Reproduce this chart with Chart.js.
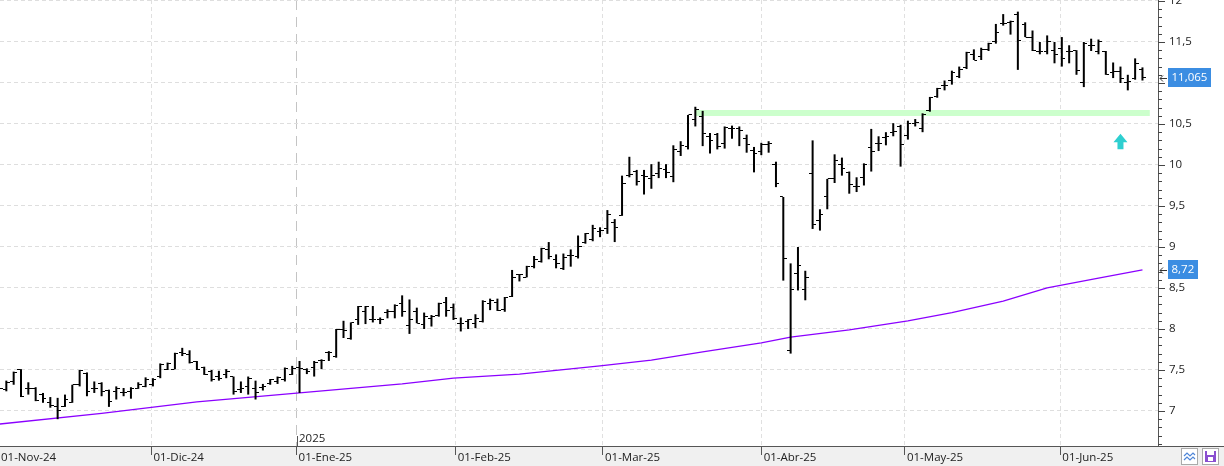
<!DOCTYPE html>
<html>
<head>
<meta charset="utf-8">
<title>Cotización diaria</title>
<script src="https://cdn.jsdelivr.net/npm/chart.js@4.4.1/dist/chart.umd.min.js"></script>
<style>
    html, body { margin: 0; padding: 0; background: #fff; }
    canvas { display: block; }
</style>
</head>
<body>
<canvas id="priceChart" width="1224" height="466"></canvas>
<script>
// Month ticks on the bottom axis (position = bar index where the month starts)
const monthLabels = ['01-Nov-24', '01-Dic-24', '01-Ene-25', '01-Feb-25', '01-Mar-25', '01-Abr-25', '01-May-25', '01-Jun-25'];
const monthPos = [0, 20.8, 40.6, 62.3, 82.4, 104.05, 123.6, 144.8];
const yearMarkIndex = 2;
const yearLabel = '2025';

// Daily OHLC, one entry per session (01-Nov-24 .. 17-Jun-25)
const opens = [7.30, 7.26, 7.36, 7.50, 7.28, 7.28, 7.20, 7.10, 7.05, 7.06,
    7.10, 7.32, 7.46, 7.28, 7.34, 7.25, 7.24, 7.23, 7.24, 7.28,
    7.30, 7.32, 7.42, 7.51, 7.51, 7.71, 7.69, 7.60, 7.53, 7.48,
    7.42, 7.44, 7.42, 7.26, 7.30, 7.28, 7.29, 7.34, 7.36, 7.38,
    7.45, 7.53, 7.50, 7.53, 7.61, 7.71, 7.66, 7.99, 7.89, 8.11,
    8.21, 8.12, 8.12, 8.20, 8.21, 8.31, 8.04, 8.21, 8.05, 8.13,
    8.16, 8.32, 8.26, 8.07, 8.09, 8.07, 8.09, 8.31, 8.32, 8.24,
    8.40, 8.66, 8.63, 8.76, 8.82, 8.97, 8.85, 8.74, 8.90, 8.89,
    9.05, 9.09, 9.19, 9.22, 9.30, 9.39, 9.87, 9.92, 9.87, 9.83,
    9.90, 9.94, 9.86, 10.17, 10.22, 10.55, 10.59, 10.35, 10.37, 10.26,
    10.45, 10.45, 10.32, 10.18, 10.16, 10.25, 10.00, 9.61, 7.74, 8.68,
    8.48, 9.90, 9.32, 9.62, 9.84, 10.00, 9.91, 9.74, 9.85, 10.21,
    10.26, 10.34, 10.40, 10.47, 10.36, 10.50, 10.45, 10.67, 10.83, 10.97,
    11.03, 11.08, 11.19, 11.35, 11.32, 11.41, 11.50, 11.72, 11.74, 11.83,
    11.71, 11.56, 11.39, 11.39, 11.40, 11.42, 11.39, 11.40, 11.00, 11.46,
    11.39, 11.38, 11.13, 11.14, 11.01, 11.05, 11.17];
const highs = [7.33, 7.37, 7.48, 7.51, 7.35, 7.29, 7.22, 7.17, 7.16, 7.20,
    7.32, 7.50, 7.47, 7.36, 7.35, 7.26, 7.30, 7.28, 7.29, 7.35,
    7.41, 7.40, 7.58, 7.59, 7.71, 7.77, 7.74, 7.61, 7.54, 7.50,
    7.49, 7.51, 7.42, 7.36, 7.42, 7.37, 7.33, 7.39, 7.42, 7.53,
    7.55, 7.61, 7.52, 7.61, 7.63, 7.73, 8.00, 8.10, 8.08, 8.28,
    8.28, 8.28, 8.14, 8.24, 8.30, 8.41, 8.36, 8.26, 8.20, 8.17,
    8.32, 8.39, 8.31, 8.14, 8.12, 8.18, 8.35, 8.37, 8.37, 8.39,
    8.72, 8.67, 8.77, 8.89, 8.99, 9.06, 8.91, 8.92, 8.97, 9.14,
    9.17, 9.27, 9.24, 9.45, 9.34, 9.87, 10.10, 9.94, 9.94, 10.01,
    10.04, 10.01, 10.24, 10.29, 10.61, 10.71, 10.66, 10.39, 10.39, 10.47,
    10.48, 10.47, 10.37, 10.22, 10.27, 10.29, 10.04, 9.61, 8.80, 9.00,
    8.71, 10.30, 9.46, 9.83, 10.13, 10.09, 9.92, 9.85, 10.02, 10.44,
    10.35, 10.40, 10.51, 10.49, 10.54, 10.56, 10.63, 10.83, 10.94, 11.03,
    11.15, 11.20, 11.38, 11.41, 11.43, 11.49, 11.72, 11.84, 11.76, 11.87,
    11.74, 11.64, 11.50, 11.58, 11.50, 11.56, 11.46, 11.40, 11.50, 11.54,
    11.53, 11.39, 11.25, 11.20, 11.10, 11.30, 11.19];
const lows = [7.24, 7.24, 7.32, 7.17, 7.20, 7.12, 7.10, 7.04, 6.90, 7.05,
    7.10, 7.30, 7.18, 7.22, 7.18, 7.05, 7.14, 7.18, 7.15, 7.27,
    7.29, 7.30, 7.40, 7.50, 7.51, 7.67, 7.58, 7.50, 7.44, 7.36,
    7.37, 7.40, 7.20, 7.22, 7.20, 7.14, 7.25, 7.32, 7.33, 7.36,
    7.44, 7.22, 7.45, 7.42, 7.51, 7.61, 7.65, 7.89, 7.87, 8.05,
    8.06, 8.08, 8.06, 8.13, 8.13, 8.15, 7.94, 8.07, 8.00, 8.03,
    8.15, 8.15, 8.11, 7.97, 8.00, 8.01, 8.08, 8.23, 8.22, 8.21,
    8.39, 8.58, 8.63, 8.74, 8.81, 8.85, 8.74, 8.72, 8.76, 8.86,
    9.04, 9.07, 9.12, 9.16, 9.06, 9.38, 9.85, 9.75, 9.64, 9.71,
    9.84, 9.84, 9.79, 10.11, 10.19, 10.47, 10.23, 10.14, 10.19, 10.20,
    10.32, 10.23, 10.15, 9.91, 10.12, 10.15, 9.73, 8.59, 7.70, 8.47,
    8.35, 9.22, 9.20, 9.46, 9.78, 9.87, 9.65, 9.67, 9.75, 9.92,
    10.17, 10.24, 10.35, 9.98, 10.31, 10.47, 10.40, 10.65, 10.82, 10.91,
    10.98, 11.06, 11.17, 11.28, 11.28, 11.39, 11.48, 11.70, 11.59, 11.16,
    11.56, 11.39, 11.35, 11.35, 11.24, 11.20, 11.24, 11.10, 10.95, 11.39,
    11.35, 11.10, 11.06, 11.00, 10.91, 11.04, 11.03];
const closes = [7.27, 7.35, 7.47, 7.18, 7.28, 7.13, 7.15, 7.07, 7.00, 7.14,
    7.32, 7.49, 7.24, 7.27, 7.24, 7.12, 7.28, 7.23, 7.27, 7.32,
    7.39, 7.38, 7.57, 7.58, 7.70, 7.70, 7.59, 7.51, 7.45, 7.38,
    7.40, 7.48, 7.24, 7.27, 7.40, 7.22, 7.30, 7.38, 7.41, 7.52,
    7.52, 7.52, 7.48, 7.59, 7.62, 7.71, 7.99, 7.98, 8.08, 8.27,
    8.27, 8.11, 8.11, 8.21, 8.29, 8.21, 8.11, 8.07, 8.15, 8.15,
    8.31, 8.23, 8.13, 8.07, 8.11, 8.13, 8.34, 8.35, 8.22, 8.38,
    8.63, 8.67, 8.76, 8.85, 8.98, 8.89, 8.80, 8.87, 8.90, 9.00,
    9.16, 9.23, 9.20, 9.40, 9.24, 9.77, 9.89, 9.80, 9.86, 9.87,
    9.96, 9.91, 10.19, 10.24, 10.61, 10.68, 10.38, 10.30, 10.22, 10.46,
    10.45, 10.42, 10.25, 10.14, 10.25, 10.26, 9.78, 8.86, 8.48, 8.77,
    8.63, 9.28, 9.40, 9.83, 10.06, 9.96, 9.76, 9.74, 10.00, 10.17,
    10.26, 10.35, 10.41, 10.25, 10.50, 10.52, 10.62, 10.82, 10.93, 10.97,
    11.13, 11.17, 11.37, 11.28, 11.41, 11.48, 11.61, 11.73, 11.75, 11.52,
    11.56, 11.40, 11.39, 11.50, 11.35, 11.30, 11.39, 11.15, 11.48, 11.46,
    11.50, 11.10, 11.14, 11.05, 11.02, 11.24, 11.065];

// Moving average, read at a handful of sessions
const maIdx = [0, 14, 27, 41, 55, 62, 71, 82, 89, 96, 104, 108, 116, 124, 130, 137, 143, 150, 156];
const maVals = [6.84, 6.97, 7.11, 7.22, 7.33, 7.40, 7.45, 7.55, 7.62, 7.72, 7.83, 7.90, 7.99, 8.10, 8.20, 8.34, 8.50, 8.62, 8.72];

// Resistance band and signal arrow
const supportLevel = 10.635;
const supportFrom = 95;
const supportTo = 157;
const arrowIdx = 153;
const arrowTip = 10.38;

// Visible window
const xMin = 0.136, xMax = 158.12;
const yMin = 6.573, yMax = 12.012;
const yTicks = [];
for (let k = 66; k <= 120; k++) yTicks.push(k / 10);

const isMajor = v => Math.round(v * 10) % 5 === 0;
const fmt = v => String(v).replace('.', ',');
const FONT = '"Open Sans", sans-serif';

// little stubs for open (left) and close (right)
function stub(side) {
    const c = document.createElement('canvas');
    c.width = 7;
    c.height = 1;
    const g = c.getContext('2d');
    g.fillStyle = '#000';
    if (side === 'left') g.fillRect(0, 0, 3, 1);
    else g.fillRect(4, 0, 3, 1);
    return c;
}

// no auto padding around the axes, the plot fills the canvas
function noPad(scale) {
    scale.paddingTop = 0;
    scale.paddingBottom = 0;
    scale.paddingLeft = 0;
    scale.paddingRight = 0;
}

const decor = {
    id: 'decor',
    beforeDraw(chart) {
        const {ctx, width, height, chartArea} = chart;
        ctx.save();
        ctx.fillStyle = '#fff';
        ctx.fillRect(0, 0, width, height);
        ctx.fillStyle = '#f0f0f0';
        ctx.fillRect(0, chartArea.bottom + 1, width, height - chartArea.bottom - 1);
        ctx.restore();
    },
    afterDraw(chart) {
        const {ctx, width, chartArea} = chart;
        const xS = chart.scales.x, yS = chart.scales.y;
        const right = chartArea.right, bottom = chartArea.bottom;
        ctx.save();

        // bottom axis line across the full width
        ctx.strokeStyle = '#555';
        ctx.lineWidth = 1;
        ctx.beginPath();
        ctx.moveTo(0, bottom + 0.5);
        ctx.lineTo(width, bottom + 0.5);
        ctx.stroke();

        // price axis tick marks
        ctx.strokeStyle = '#444';
        ctx.beginPath();
        yTicks.forEach(v => {
            const y = Math.round(yS.getPixelForValue(v)) + 0.5;
            ctx.moveTo(right, y);
            ctx.lineTo(right + (isMajor(v) ? 7 : 4), y);
        });
        ctx.stroke();

        // year marker
        const yx = Math.round(xS.getPixelForValue(monthPos[yearMarkIndex])) + 0.5;
        ctx.strokeStyle = '#555';
        ctx.beginPath();
        ctx.moveTo(yx, bottom - 10);
        ctx.lineTo(yx, bottom);
        ctx.stroke();
        ctx.fillStyle = '#222';
        ctx.font = '11.5px ' + FONT;
        ctx.textBaseline = 'alphabetic';
        ctx.textAlign = 'left';
        ctx.fillText(yearLabel, yx + 1.5, bottom - 4.5);

        // last value tags
        const tag = (v, text) => {
            const y = Math.round(yS.getPixelForValue(v));
            ctx.font = '11.5px ' + FONT;
            const w = Math.ceil(ctx.measureText(text).width) + 7;
            ctx.fillStyle = '#3b8de2';
            ctx.fillRect(right + 10, y - 10, w, 19);
            ctx.fillStyle = '#fff';
            ctx.textBaseline = 'middle';
            ctx.fillText(text, right + 13.5, y);
            ctx.strokeStyle = '#333';
            ctx.beginPath();
            ctx.moveTo(right + 9, y + 0.5);
            ctx.lineTo(right + 2, y + 0.5);
            ctx.moveTo(right + 5, y - 2.5);
            ctx.lineTo(right + 2, y + 0.5);
            ctx.lineTo(right + 5, y + 3.5);
            ctx.stroke();
        };
        tag(closes[closes.length - 1], fmt(closes[closes.length - 1]));
        tag(maVals[maVals.length - 1], fmt(maVals[maVals.length - 1]));

        // up arrow
        const ax = xS.getPixelForValue(arrowIdx), ay = yS.getPixelForValue(arrowTip);
        ctx.fillStyle = '#2ecfd0';
        ctx.beginPath();
        ctx.moveTo(ax, ay);
        ctx.lineTo(ax + 7, ay + 8.5);
        ctx.lineTo(ax + 3, ay + 8.5);
        ctx.lineTo(ax + 3, ay + 15.5);
        ctx.lineTo(ax - 3, ay + 15.5);
        ctx.lineTo(ax - 3, ay + 8.5);
        ctx.lineTo(ax - 7, ay + 8.5);
        ctx.closePath();
        ctx.fill();

        // toolbar icons, bottom right
        ctx.fillStyle = '#fff';
        ctx.strokeStyle = '#aaa';
        ctx.fillRect(1181, 448, 17, 17);
        ctx.strokeRect(1181.5, 448.5, 16, 16);
        ctx.fillRect(1202, 448, 17, 17);
        ctx.strokeRect(1202.5, 448.5, 16, 16);
        ctx.strokeStyle = '#4f86d8';
        ctx.lineWidth = 1.2;
        [453, 457].forEach(y0 => {
            ctx.beginPath();
            ctx.moveTo(1184, y0 + 3);
            ctx.lineTo(1187, y0);
            ctx.lineTo(1190, y0 + 3);
            ctx.lineTo(1193, y0);
            ctx.lineTo(1195, y0 + 2);
            ctx.stroke();
        });
        ctx.fillStyle = '#8a4fd0';
        ctx.fillRect(1205, 451, 11, 11);
        ctx.fillStyle = '#fff';
        ctx.fillRect(1207, 451, 7, 4);
        ctx.fillRect(1208, 457, 5, 4);

        ctx.restore();
    }
};

new Chart(document.getElementById('priceChart'), {
    type: 'line',
    data: {
        datasets: [{
            label: 'Resistencia',
            data: [{x: supportFrom, y: supportLevel}, {x: supportTo, y: supportLevel}],
            borderColor: '#ccffcc',
            borderWidth: 6,
            borderCapStyle: 'butt',
            pointRadius: 0,
            order: 10
        }, {
            label: 'Media',
            data: maIdx.map((x, i) => ({x: x, y: maVals[i]})),
            borderColor: '#8b00ff',
            borderWidth: 1.3,
            pointRadius: 0,
            tension: 0,
            order: 5
        }, {
            type: 'bar',
            label: 'Rango',
            data: highs.map((h, i) => ({x: i, y: [lows[i], h]})),
            backgroundColor: '#000',
            borderWidth: 0,
            barThickness: 2,
            inflateAmount: 0,
            order: 2
        }, {
            label: 'Apertura',
            data: opens.map((v, i) => ({x: i, y: v})),
            showLine: false,
            pointStyle: stub('left'),
            pointRadius: 3,
            order: 1
        }, {
            label: 'Cierre',
            data: closes.map((v, i) => ({x: i, y: v})),
            showLine: false,
            pointStyle: stub('right'),
            pointRadius: 3,
            order: 1
        }]
    },
    options: {
        responsive: false,
        animation: false,
        events: [],
        layout: { padding: 0, autoPadding: false },
        plugins: {
            legend: { display: false },
            tooltip: { enabled: false }
        },
        scales: {
            x: {
                type: 'linear',
                min: xMin,
                max: xMax,
                offset: false,
                afterBuildTicks: function(scale) {
                    scale.ticks = monthPos.map(v => ({value: v}));
                },
                afterFit: function(scale) {
                    scale.height = 20;
                    noPad(scale);
                },
                grid: {
                    offset: false,
                    color: c => c.index === yearMarkIndex ? '#c4c4c4' : '#e0e0e0',
                    drawTicks: true,
                    tickLength: 9,
                    tickColor: '#555'
                },
                border: {
                    display: false,
                    dash: c => c.index === yearMarkIndex ? [10, 7] : [4, 3]
                },
                ticks: {
                    autoSkip: false,
                    maxRotation: 0,
                    align: 'start',
                    labelOffset: 2,
                    padding: -4,
                    color: '#222',
                    font: { family: FONT, size: 11.5 },
                    callback: (v, i) => monthLabels[i]
                }
            },
            y: {
                position: 'right',
                min: yMin,
                max: yMax,
                afterBuildTicks: function(scale) {
                    scale.ticks = yTicks.map(v => ({value: v}));
                },
                afterFit: function(scale) {
                    scale.width = 66;
                    noPad(scale);
                },
                grid: {
                    color: c => isMajor(c.tick.value) ? '#dedede' : 'rgba(0,0,0,0)',
                    drawTicks: false
                },
                border: {
                    display: true,
                    color: '#555',
                    dash: [4, 3]
                },
                ticks: {
                    autoSkip: false,
                    padding: 11,
                    color: '#222',
                    font: { family: FONT, size: 11.5 },
                    callback: v => isMajor(v) ? fmt(v) : ''
                }
            }
        }
    },
    plugins: [decor]
});
</script>
</body>
</html>
